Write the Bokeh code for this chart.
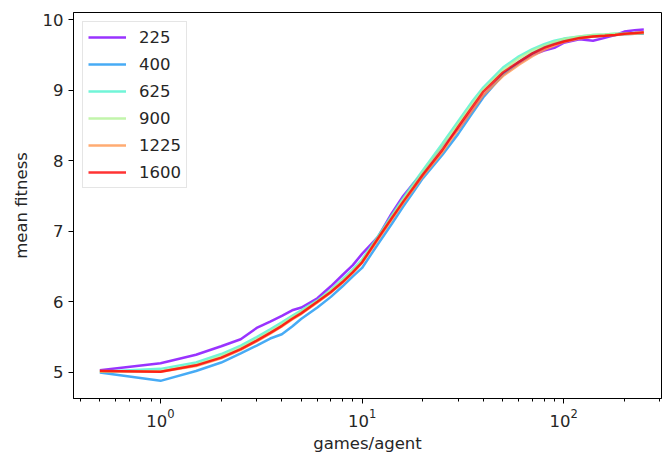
from bokeh.plotting import figure
from bokeh.models import Range1d, FixedTicker, Legend, LegendItem
from bokeh.embed import file_html
from bokeh.resources import INLINE

games = [0.5, 1, 1.5, 2, 2.5, 3, 3.5, 4, 4.5, 5, 6, 7, 8, 9, 10, 12, 14, 16, 18, 20,
         25, 30, 35, 40, 50, 60, 70, 80, 90, 100, 120, 140, 160, 180, 200, 225, 250]

fit_225 = [5.03, 5.13, 5.25, 5.37, 5.47, 5.63, 5.72, 5.80, 5.88, 5.92, 6.05, 6.22, 6.38, 6.52, 6.68,
           6.92, 7.25, 7.50, 7.68, 7.82, 8.20, 8.45, 8.70, 8.92, 9.22, 9.38, 9.50, 9.56, 9.60, 9.67,
           9.72, 9.70, 9.74, 9.78, 9.83, 9.85, 9.86]
fit_400 = [5.00, 4.88, 5.02, 5.14, 5.27, 5.38, 5.48, 5.54, 5.65, 5.76, 5.92, 6.07, 6.22, 6.36, 6.48,
           6.82, 7.10, 7.35, 7.56, 7.75, 8.08, 8.38, 8.66, 8.90, 9.22, 9.40, 9.52, 9.61, 9.66, 9.70,
           9.74, 9.76, 9.77, 9.78, 9.79, 9.80, 9.80]
fit_625 = [5.01, 5.05, 5.14, 5.26, 5.38, 5.50, 5.61, 5.71, 5.80, 5.88, 6.02, 6.17, 6.32, 6.46, 6.60,
           6.93, 7.22, 7.47, 7.68, 7.86, 8.24, 8.56, 8.83, 9.04, 9.32, 9.48, 9.58, 9.65, 9.70, 9.73,
           9.76, 9.78, 9.79, 9.80, 9.80, 9.81, 9.81]
fit_900 = [5.01, 5.02, 5.11, 5.23, 5.35, 5.47, 5.58, 5.68, 5.78, 5.86, 6.01, 6.16, 6.30, 6.44, 6.58,
           6.91, 7.20, 7.45, 7.65, 7.83, 8.20, 8.52, 8.79, 9.01, 9.28, 9.45, 9.56, 9.63, 9.68, 9.72,
           9.76, 9.78, 9.79, 9.80, 9.80, 9.81, 9.81]
fit_1225 = [5.02, 5.01, 5.09, 5.20, 5.32, 5.44, 5.55, 5.65, 5.75, 5.83, 5.99, 6.13, 6.27, 6.41, 6.55,
            6.88, 7.16, 7.40, 7.60, 7.78, 8.12, 8.44, 8.70, 8.93, 9.20, 9.36, 9.48, 9.57, 9.63, 9.68,
            9.73, 9.76, 9.77, 9.78, 9.79, 9.80, 9.81]
fit_1600 = [5.02, 5.01, 5.10, 5.21, 5.33, 5.45, 5.56, 5.66, 5.76, 5.84, 6.00, 6.14, 6.28, 6.42, 6.56,
            6.90, 7.18, 7.42, 7.62, 7.80, 8.15, 8.48, 8.75, 8.98, 9.25, 9.40, 9.52, 9.60, 9.65, 9.69,
            9.74, 9.76, 9.77, 9.78, 9.80, 9.81, 9.82]

labels = ["225", "400", "625", "900", "1225", "1600"]
series = [fit_225, fit_400, fit_625, fit_900, fit_1225, fit_1600]
colors = ["#8000ff", "#1996f3", "#4df3ce", "#b3f396", "#ff964f", "#ff0000"]

x_major = [1, 10, 100]
x_minor = [0.4, 0.5, 0.6, 0.7, 0.8, 0.9, 2, 3, 4, 5, 6, 7, 8, 9,
           20, 30, 40, 50, 60, 70, 80, 90, 200, 300]
y_ticks = [5, 6, 7, 8, 9, 10]

FONT = "DejaVu Sans"
FS = "16.5px"

p = figure(width=662, height=461, x_axis_type="log", output_backend="svg",
           toolbar_location=None, x_range=Range1d(0.37, 306), y_range=Range1d(4.63, 10.1))
p.min_border_left = 73
p.min_border_right = 1
p.min_border_top = 12
p.min_border_bottom = 63
p.grid.visible = False
p.outline_line_color = "#000000"
p.outline_line_width = 1
p.background_fill_color = "white"
p.border_fill_color = "white"

p.xaxis.ticker = FixedTicker(ticks=x_major, minor_ticks=x_minor)
p.yaxis.ticker = FixedTicker(ticks=y_ticks)

for ax in (p.xaxis[0], p.yaxis[0]):
    ax.axis_line_color = "#000000"
    ax.major_tick_line_color = "#000000"
    ax.minor_tick_line_color = "#000000"
    ax.major_tick_out = 5
    ax.major_tick_in = 0
    ax.minor_tick_out = 3
    ax.minor_tick_in = 0
    ax.major_label_text_font = FONT
    ax.major_label_text_font_size = FS
    ax.major_label_text_color = "#262626"
    ax.axis_label_text_font = FONT
    ax.axis_label_text_font_size = FS
    ax.axis_label_text_font_style = "normal"
    ax.axis_label_text_color = "#262626"
p.yaxis.minor_tick_line_color = None
p.xaxis.axis_label = "games/agent"
p.yaxis.axis_label = "mean fitness"
p.xaxis.major_label_standoff = 5
p.yaxis.major_label_standoff = 5
p.xaxis.axis_label_standoff = 4
p.yaxis.axis_label_standoff = 9

items = []
for lab, ys, c in zip(labels, series, colors):
    r = p.line(games, ys, line_color=c, line_alpha=0.8, line_width=2.5)
    items.append(LegendItem(label=lab, renderers=[r]))

leg = Legend(items=items, location="top_left")
leg.margin = 9
leg.padding = 5
leg.spacing = 7
leg.glyph_height = 20
leg.label_height = 20
leg.glyph_width = 38
leg.label_standoff = 13
leg.label_text_font = FONT
leg.label_text_font_size = FS
leg.label_text_color = "#262626"
leg.border_line_color = "#cccccc"
leg.border_line_width = 1
leg.background_fill_alpha = 0.8
p.add_layout(leg)

open("out.html", "w").write(file_html(p, INLINE))
